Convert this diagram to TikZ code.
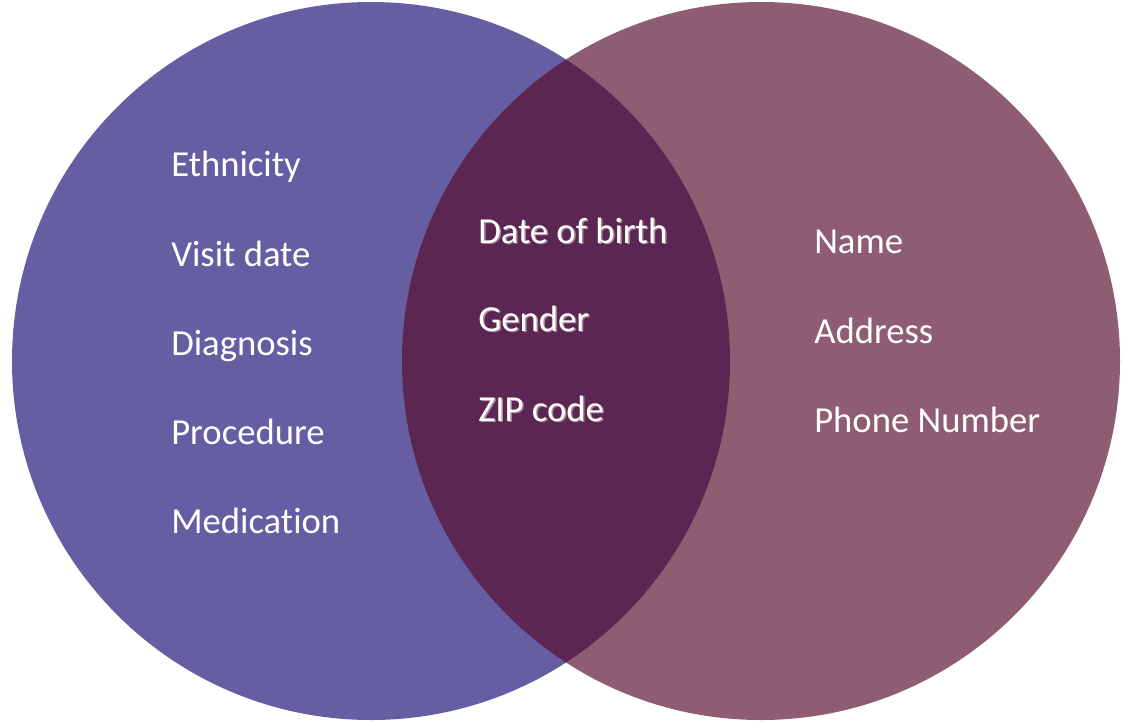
\documentclass[tikz,border=0pt]{standalone}
\usepackage{fontspec}
\setmainfont{Carlito}[RawFeature={-liga;-clig}]
\definecolor{leftc}{HTML}{655EA2}
\definecolor{rightc}{HTML}{8E5D71}
\definecolor{midc}{HTML}{5C2653}
\definecolor{shadowc}{HTML}{A88A9C}
\begin{document}
\begin{tikzpicture}[x=0.75pt,y=-0.75pt,
  lbl/.style={anchor=base west,inner sep=0pt,text=white,font=\fontsize{27.5}{30}\selectfont},
  shd/.style={anchor=base west,inner sep=0pt,text=shadowc,font=\fontsize{27.5}{30}\selectfont}]
\useasboundingbox (0,0) rectangle (1125,722);
\fill[leftc] (371,361) circle[radius=359*0.75pt];
\fill[rightc] (761,361) circle[radius=359*0.75pt];
\begin{scope}
\clip (371,361) circle[radius=359*0.75pt];
\fill[midc] (761,361) circle[radius=359*0.75pt];
\end{scope}
% left
\node[lbl] (eth) at (171,176) {Ethnicity};
\node[lbl] (vis) at (171,266) {Visit date};
\node[lbl] (dia) at (171,355) {Diagnosis};
\node[lbl] (pro) at (171,444) {Procedure};
\node[lbl] (med) at (171,533) {Medication};
% middle with shadow
\node[shd] (dobs) at (479.5,244.5) {Date of birth};
\node[lbl] (dob) at (478,243) {Date of birth};
\node[shd] (gens) at (479.5,332.5) {Gender};
\node[lbl] (gen) at (478,331) {Gender};
\node[shd] (zips) at (479.5,422.5) {ZIP code};
\node[lbl] (zip) at (478,421) {ZIP code};
% right
\node[lbl] (nam) at (814,253) {Name};
\node[lbl] (adr) at (814,343) {Address};
\node[lbl] (pho) at (814,432) {Phone Number};
\end{tikzpicture}
\end{document}
